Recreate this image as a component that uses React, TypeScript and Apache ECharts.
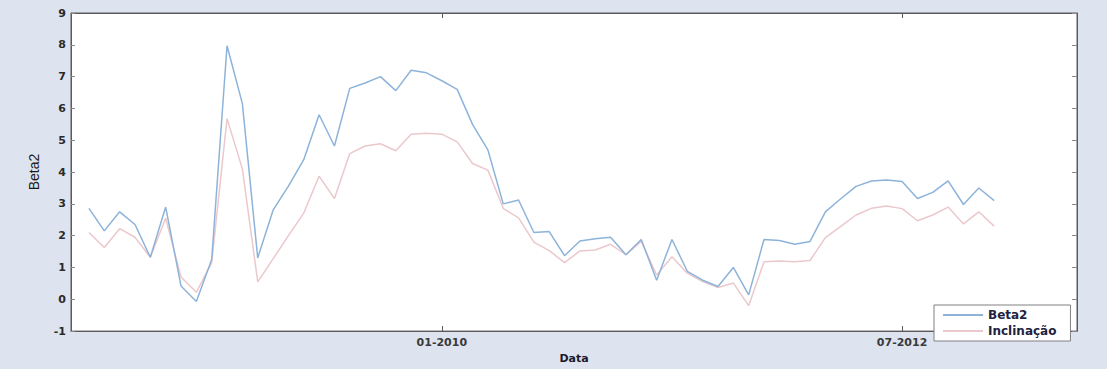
import React, { useEffect, useRef } from "react";
import * as echarts from "echarts";

const months = [
  "02-2008","03-2008","04-2008","05-2008","06-2008","07-2008","08-2008","09-2008","10-2008","11-2008","12-2008",
  "01-2009","02-2009","03-2009","04-2009","05-2009","06-2009","07-2009","08-2009","09-2009","10-2009","11-2009","12-2009",
  "01-2010","02-2010","03-2010","04-2010","05-2010","06-2010","07-2010","08-2010","09-2010","10-2010","11-2010","12-2010",
  "01-2011","02-2011","03-2011","04-2011","05-2011","06-2011","07-2011","08-2011","09-2011","10-2011","11-2011","12-2011",
  "01-2012","02-2012","03-2012","04-2012","05-2012","06-2012","07-2012","08-2012","09-2012","10-2012","11-2012","12-2012",
  "01-2013",
];

const beta2 = [
  2.86, 2.15, 2.75, 2.35, 1.32, 2.9, 0.42, -0.07, 1.25, 7.97, 6.15,
  1.3, 2.8, 3.56, 4.39, 5.8, 4.82, 6.63, 6.8, 7.0, 6.56, 7.2, 7.12,
  6.87, 6.6, 5.5, 4.7, 3.0, 3.12, 2.1, 2.13, 1.37, 1.83, 1.9, 1.95,
  1.4, 1.88, 0.6, 1.88, 0.88, 0.6, 0.4, 1.0, 0.14, 1.88, 1.85, 1.73,
  1.82, 2.75, 3.16, 3.55, 3.72, 3.75, 3.7, 3.17, 3.36, 3.72, 2.98, 3.5,
  3.1,
];

const inclinacao = [
  2.1, 1.63, 2.22, 1.95, 1.32, 2.55, 0.7, 0.22, 1.15, 5.68, 4.1,
  0.55, 1.27, 2.0, 2.71, 3.87, 3.17, 4.58, 4.82, 4.89, 4.67, 5.19, 5.22,
  5.19, 4.95, 4.27, 4.06, 2.86, 2.56, 1.8, 1.53, 1.15, 1.52, 1.55, 1.73,
  1.4, 1.82, 0.76, 1.34, 0.82, 0.56, 0.37, 0.51, -0.2, 1.18, 1.2, 1.18,
  1.22, 1.94, 2.29, 2.65, 2.86, 2.93, 2.85, 2.47, 2.65, 2.9, 2.37, 2.75,
  2.3,
];

const xTickLabels = ["01-2010", "07-2012"];
const seriesNames = ["Beta2", "Inclinação"];

export default function App() {
  const ref = useRef<HTMLDivElement>(null);

  useEffect(() => {
    if (!ref.current) return;
    const chart = echarts.init(ref.current, null, { renderer: "svg" });
    const tickIdx = xTickLabels.map((l) => months.indexOf(l));
    const toPairs = (arr: number[]) => arr.map((v, i) => [i, v]);
    const font = "DejaVu Sans";
    const axisColor = "#5a5a5a";

    chart.setOption({
      animation: false,
      backgroundColor: "#dde4f0",
      grid: {
        left: 71,
        right: 30,
        top: 13,
        bottom: 29,
        show: true,
        backgroundColor: "#ffffff",
        borderColor: axisColor,
        borderWidth: 1,
      },
      legend: {
        orient: "vertical",
        left: 934,
        top: 305,
        padding: [4, 14, 4, 9],
        itemGap: 4,
        itemWidth: 40,
        itemHeight: 2,
        icon: "rect",
        backgroundColor: "#ffffff",
        borderColor: "#808080",
        borderWidth: 1,
        borderRadius: 0,
        data: seriesNames,
        textStyle: {
          fontFamily: font,
          fontWeight: "bold",
          fontSize: 12,
          color: "#1e2240",
        },
      },
      xAxis: [
        {
          type: "value",
          min: -1.17,
          max: 64.4,
          name: "Data",
          nameLocation: "middle",
          nameGap: 17,
          nameTextStyle: {
            fontFamily: font,
            fontWeight: "bold",
            fontSize: 11,
            color: "#1a1a2a",
          },
          axisLine: { show: true, onZero: false, lineStyle: { color: axisColor } },
          axisTick: {
            show: true,
            inside: true,
            length: 5,
            customValues: tickIdx,
            lineStyle: { color: axisColor },
          },
          axisLabel: {
            show: true,
            customValues: tickIdx,
            margin: 6,
            fontFamily: font,
            fontWeight: "bold",
            fontSize: 11,
            color: "#3a3a3a",
            formatter: (v: number) => months[Math.round(v)] ?? "",
          },
          splitLine: { show: false },
        },
        {
          type: "value",
          position: "top",
          min: -1.17,
          max: 64.4,
          axisLine: { show: true, onZero: false, lineStyle: { color: axisColor } },
          axisTick: {
            show: true,
            inside: true,
            length: 5,
            customValues: tickIdx,
            lineStyle: { color: axisColor },
          },
          axisLabel: { show: false },
          splitLine: { show: false },
        },
      ],
      yAxis: [
        {
          type: "value",
          min: -1,
          max: 9,
          interval: 1,
          name: "Beta2",
          nameLocation: "middle",
          nameGap: 30,
          nameRotate: 90,
          nameTextStyle: {
            fontFamily: "Liberation Sans Narrow, Liberation Sans",
            fontSize: 14,
            color: "#1a1a1a",
          },
          axisLine: { show: true, onZero: false, lineStyle: { color: axisColor } },
          axisTick: { show: true, inside: true, length: 4, lineStyle: { color: "#8a8a8a" } },
          axisLabel: {
            margin: 5,
            fontFamily: font,
            fontWeight: "bold",
            fontSize: 11,
            color: "#2a2a2a",
          },
          splitLine: { show: false },
        },
        {
          type: "value",
          position: "right",
          min: -1,
          max: 9,
          interval: 1,
          axisLine: { show: true, onZero: false, lineStyle: { color: axisColor } },
          axisTick: { show: true, inside: true, length: 5, lineStyle: { color: "#8a8a8a" } },
          axisLabel: { show: false },
          splitLine: { show: false },
        },
      ],
      series: [
        {
          name: seriesNames[0],
          type: "line",
          xAxisIndex: 0,
          yAxisIndex: 0,
          data: toPairs(beta2),
          symbol: "none",
          lineStyle: { color: "#8db3da", width: 1.5 },
          itemStyle: { color: "#8db3da" },
          z: 3,
        },
        {
          name: seriesNames[1],
          type: "line",
          xAxisIndex: 0,
          yAxisIndex: 0,
          data: toPairs(inclinacao),
          symbol: "none",
          lineStyle: { color: "#ebc8cc", width: 1.5 },
          itemStyle: { color: "#ebc8cc" },
          z: 2,
        },
      ],
    });

    return () => chart.dispose();
  }, []);

  return (
    <div
      ref={ref}
      style={{ position: "fixed", left: 0, top: 0, width: 1107, height: 369 }}
    />
  );
}
